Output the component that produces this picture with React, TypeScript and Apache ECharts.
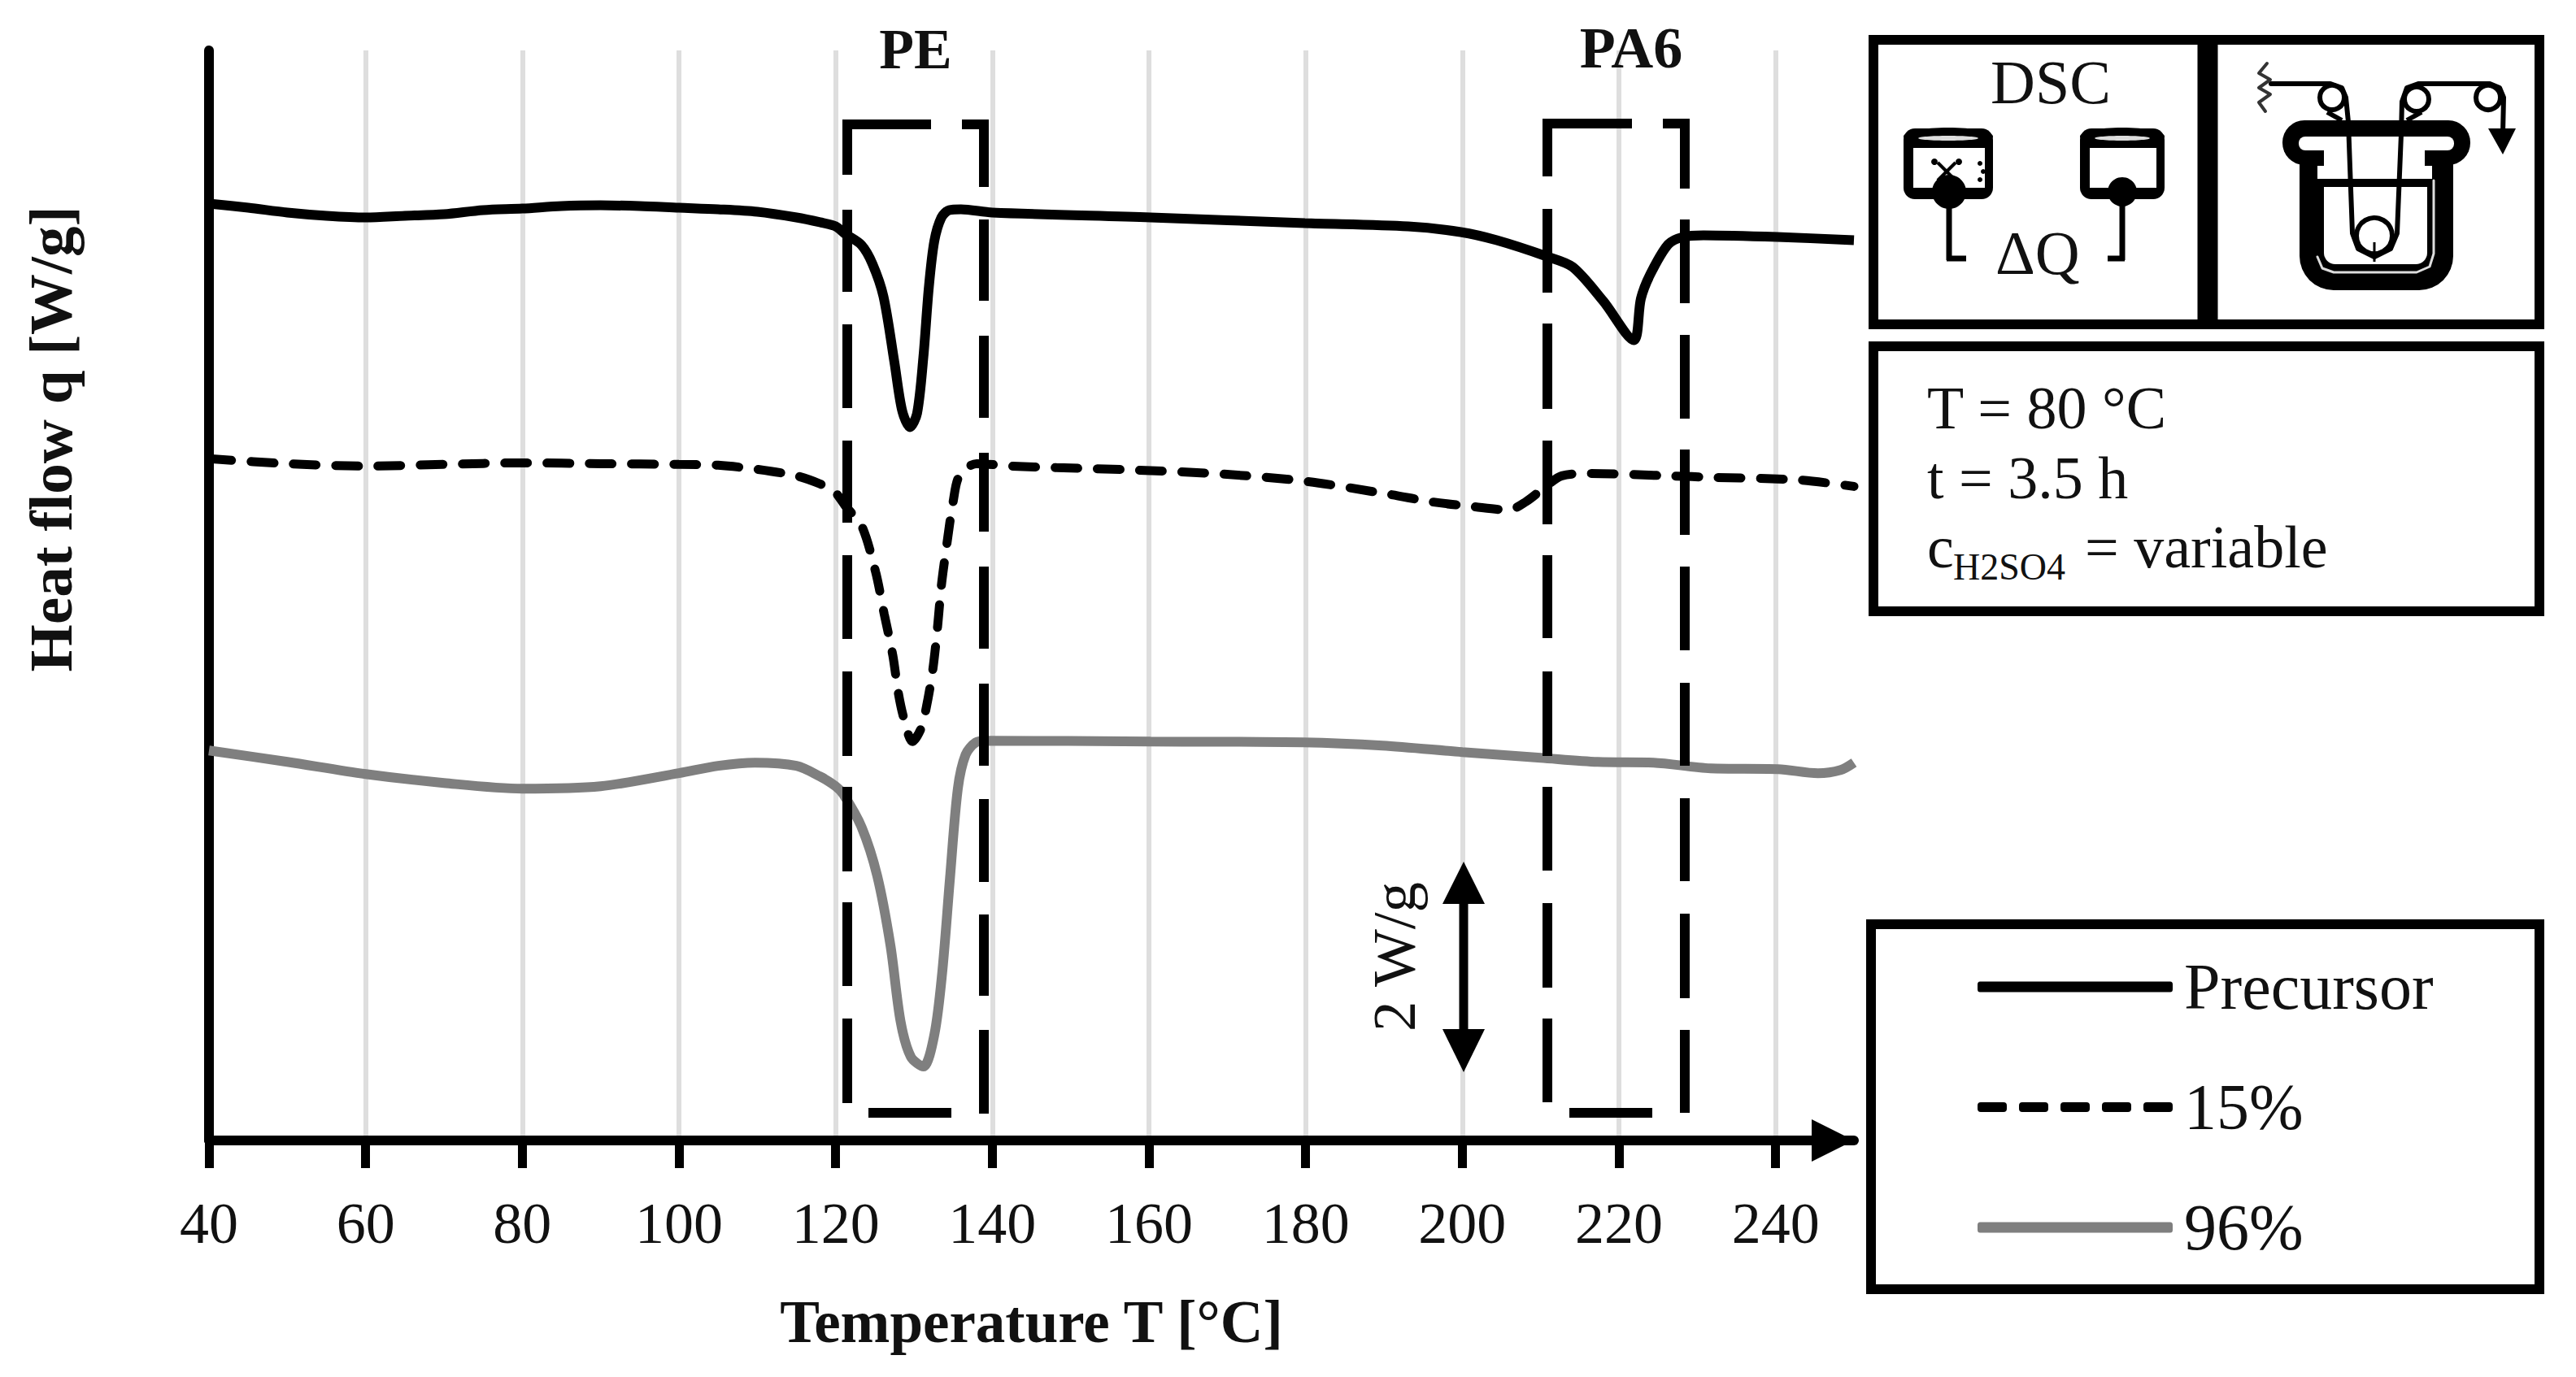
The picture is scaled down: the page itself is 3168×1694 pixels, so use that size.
import React, { useEffect, useRef } from "react";
import * as echarts from "echarts";

const xTicks = [40, 60, 80, 100, 120, 140, 160, 180, 200, 220, 240];

const precursorTemps = [40,45,50,55,60,65,70,75,80,85,90,95,100,105,110,115,118,120,121.2,123.3,124.7,126.1,127.5,128.5,129.5,130.4,131.2,131.9,132.6,133.5,134.5,136,140,160.2,179.9,193.1,199.8,204.4,210.8,214.1,218,221.9,222.8,224,226.3,228.2,230.8,240.2,250];
const precursorFlow = [8.938,8.899,8.853,8.822,8.806,8.822,8.837,8.876,8.891,8.915,8.922,8.915,8.899,8.884,8.860,8.806,8.760,8.721,8.651,8.543,8.364,8.054,7.426,6.961,6.806,6.938,7.473,8.140,8.581,8.806,8.876,8.884,8.853,8.806,8.752,8.721,8.667,8.589,8.434,8.333,8.008,7.636,8.031,8.264,8.550,8.620,8.636,8.620,8.589];

const acid15Temps = [40,50,60,70,80,90,100,105,110,115,118,119.9,121.3,123.3,125.1,126.2,127.3,128,128.7,129.8,130.9,131.6,132.4,133,133.5,134.2,135,135.8,138,142.5,148.2,158.7,169.6,180.2,190.8,196.1,201.4,205.9,208.1,210.8,212.7,216.4,226.3,232.3,242.9,250];
const acid15Flow = [6.504,6.457,6.434,6.450,6.465,6.457,6.450,6.442,6.403,6.341,6.264,6.186,6.047,5.868,5.426,5.023,4.628,4.271,4.030,3.806,3.930,4.140,4.488,4.891,5.295,5.690,6.093,6.341,6.457,6.434,6.419,6.395,6.357,6.287,6.163,6.093,6.047,6.016,6.093,6.248,6.341,6.364,6.341,6.326,6.302,6.240];

const acid96Temps = [40,50,60,70,80,90,100,105,109.7,115,118,120,121,123.3,125.3,127,128.3,129.6,131.2,132.6,133.6,134.6,135.6,136.6,137.9,139.3,160.2,179.7,189.8,200,210,217.3,224.4,231.7,240.3,245.4,248.3,250];
const acid96Flow = [3.721,3.612,3.496,3.411,3.357,3.380,3.504,3.574,3.605,3.574,3.473,3.380,3.302,2.992,2.527,1.860,1.132,0.798,0.705,1.008,1.597,2.504,3.357,3.682,3.798,3.814,3.806,3.798,3.767,3.705,3.651,3.612,3.605,3.550,3.543,3.504,3.535,3.605];

const seriesNames = ["Precursor", "15%", "96%"];
const conditionLines = ["T = 80 °C", "t = 3.5 h"];

const pair = (t: number[], v: number[]) => t.map((x, i) => [x, v[i]]);
const FONT = "Liberation Serif";
const Z = 10;

// Legend keys: a zero-length move at the top and bottom pins the icon's box to the row height.
const keyFrame = "M0 0L0 0M0 80L0 80M240 0L240 0";
const solidKey = "path://" + keyFrame + "M3 33.5H237Q240 33.5 240 37V43Q240 46.5 237 46.5H3Q0 46.5 0 43V37Q0 33.5 3 33.5Z";
const dashKey = "path://" + keyFrame + [0, 51, 102, 153, 204].map((s) =>
  `M${s + 4} 34H${s + 32}Q${s + 36} 34 ${s + 36} 38V42Q${s + 36} 46 ${s + 32} 46H${s + 4}Q${s} 46 ${s} 42V38Q${s} 34 ${s + 4} 34Z`).join("");

const ln = (x1: number, y1: number, x2: number, y2: number, w = 12, c = "#000", cap = "butt") => ({
  type: "line", z: Z, shape: { x1, y1, x2, y2 }, style: { stroke: c, lineWidth: w, lineCap: cap },
});
const box = (x: number, y: number, w: number, h: number, lw = 12) => ({
  type: "rect", z: Z, shape: { x, y, width: w, height: h }, style: { fill: "transparent", stroke: "#000", lineWidth: lw },
});
const fillRect = (x: number, y: number, w: number, h: number, r: any, fill: string) => ({
  type: "rect", z: Z, shape: { x, y, width: w, height: h, r }, style: { fill },
});
const circ = (cx: number, cy: number, r: number, fill: string, stroke?: string, lw = 0) => ({
  type: "circle", z: Z, shape: { cx, cy, r }, style: { fill, stroke, lineWidth: lw },
});
// y is the text's baseline, unless a rotated text asks to be centred on it.
const txt = (x: number, y: number, text: string, size: number, opt: any = {}) => ({
  type: "text", z: Z, x, y: opt.valign ? y : y - 0.87 * size, rotation: opt.rotation || 0,
  style: {
    text, fontFamily: FONT, fontSize: size, fontWeight: opt.bold ? "bold" : "normal", fill: "#111",
    textAlign: opt.align || "left", textVerticalAlign: opt.valign || "top",
  },
});
const poly = (points: number[][], w: number, c = "#000", smooth = 0) => ({
  type: "polyline", z: Z, shape: { points, smooth }, style: { stroke: c, lineWidth: w, fill: "transparent", lineJoin: "round", lineCap: "round" },
});
const tri = (points: number[][]) => ({ type: "polygon", z: Z, shape: { points }, style: { fill: "#000" } });

const vDashes = (x: number, segs: number[][]) => segs.map(([a, b]) => ln(x, a, x, b));

function bracketElements() {
  return [
    ln(1036, 153, 1145, 153), ln(1183, 153, 1216, 153), ln(1068, 1369, 1170, 1369),
    ...vDashes(1042, [[147,215],[258,359],[399,502],[542,643],[683,786],[826,930],[968,1072],[1110,1213],[1253,1357]]),
    ...vDashes(1210, [[147,230],[270,370],[413,514],[557,654],[697,798],[841,942],[983,1085],[1125,1225],[1267,1370]]),
    ln(1897, 152, 2007, 152), ln(2045, 152, 2078, 152), ln(1930, 1369, 2032, 1369),
    ...vDashes(1903, [[146,217],[257,360],[398,503],[542,645],[683,785],[826,930],[968,1071],[1111,1215],[1253,1356]]),
    ...vDashes(2072, [[146,232],[270,373],[412,515],[553,658],[697,800],[840,942],[982,1084],[1124,1228],[1267,1369]]),
  ];
}

function dscIcon() {
  const can = (x: number, w: number, bx: number, by: number, br: number) => [
    fillRect(x, 158, w, 87, 14, "#000"),
    { type: "ellipse", z: Z, shape: { cx: x + w / 2, cy: 168, rx: w / 2, ry: 11 }, style: { fill: "#000" } },
    { type: "ellipse", z: Z, shape: { cx: x + w / 2, cy: 170, rx: w / 2 - 18, ry: 3 }, style: { fill: "#ddd" } },
    fillRect(x + 12, 182, w - 22, 49, 0, "#fff"),
    circ(bx, by, br, "#000"),
    ln(bx, by, bx, 320, 7),
  ];
  return [
    ...can(2341, 110, 2397, 236, 21),
    ln(2383, 200, 2405, 222, 4), ln(2405, 200, 2383, 222, 4),
    circ(2379, 199, 4, "#000"), circ(2409, 199, 4, "#000"),
    circ(2435, 201, 3, "#000"), circ(2439, 211, 3, "#000"), circ(2435, 221, 3, "#000"),
    ln(2394, 318, 2418, 318, 7),
    ...can(2558, 104, 2610, 236, 18),
    ln(2613, 318, 2592, 318, 7),
    txt(2522, 129, "DSC", 76, { align: "center" }),
    txt(2454, 339, "ΔQ", 76),
  ];
}

function beakerIcon() {
  return [
    fillRect(2807, 148, 231, 55, 27, "#000"),
    fillRect(2828, 150, 189, 207, [0, 0, 42, 42], "#000"),
    fillRect(2827, 168, 191, 17, 8, "#fff"),
    fillRect(2858, 168, 124, 52, 0, "#fff"),
    fillRect(2850, 204, 141, 16, 0, "#fff"),
    fillRect(2858, 230, 127, 95, [0, 0, 14, 14], "#fff"),
    poly([[2850, 316], [2856, 330], [2870, 335], [2972, 335], [2988, 328], [2993, 312], [2993, 222]], 3, "#ddd"),
    // threads
    poly([[2793, 103], [2866, 103], [2880, 108], [2885, 120], [2888, 150], [2893, 287], [2900, 306], [2920, 316], [2940, 306], [2948, 287], [2953, 165], [2954, 125], [2960, 108], [2974, 103], [3062, 103], [3074, 108], [3079, 120], [3078, 165]], 6, "#000"),
    circ(2868, 120, 15, "#fff", "#000", 6),
    circ(2972, 122, 15, "#fff", "#000", 6),
    circ(3060, 120, 15, "#fff", "#000", 6),
    circ(2920, 290, 22, "#fff", "#000", 6),
    ln(2920, 298, 2920, 322, 3),
    ln(2862, 138, 2880, 148, 6), ln(2978, 138, 2960, 148, 6),
    tri([[3060, 158], [3094, 158], [3078, 190]]),
    // wall mount
    poly([[2788, 78], [2778, 90], [2792, 98], [2778, 108], [2792, 116], [2778, 126], [2786, 137]], 4, "#333"),
  ];
}

function buildGraphic() {
  return [
    ...bracketElements(),
    txt(1126, 86, "PE", 70, { bold: true, align: "center" }),
    txt(2006, 86, "PA6", 72, { bold: true, align: "center" }),
    txt(62, 540, "Heat flow q [W/g]", 75, { bold: true, align: "center", valign: "middle", rotation: Math.PI / 2 }),
    // 2 W/g scale
    ln(1800, 1105, 1800, 1272, 11),
    tri([[1800, 1060], [1826, 1112], [1774, 1112]]),
    tri([[1800, 1319], [1826, 1266], [1774, 1266]]),
    txt(1714, 1177, "2 W/g", 75, { align: "center", valign: "middle", rotation: Math.PI / 2 }),
    // panels
    box(2304, 49, 819, 350),
    ln(2715, 43, 2715, 405, 25),
    ...dscIcon(),
    ...beakerIcon(),
    box(2304, 426, 819, 326),
    txt(2370, 529, conditionLines[0], 74),
    txt(2370, 615, conditionLines[1], 74),
    txt(2370, 700, "c", 74),
    txt(2402, 715, "H2SO4", 46),
    txt(2564, 700, "= variable", 74),
    box(2301, 1137, 822, 449),
  ];
}

export default function App() {
  const ref = useRef<HTMLDivElement>(null);
  useEffect(() => {
    const chart = echarts.init(ref.current!, undefined, { renderer: "svg" });
    const common = { type: "line", showSymbol: false, symbol: "none", smooth: 0.3, z: 3 };
    chart.setOption({
      animation: false,
      backgroundColor: "#fff",
      grid: { left: 257, top: 62, width: 2023, height: 1341, containLabel: false },
      legend: {
        orient: "vertical", left: 2432, top: 1174, itemWidth: 240, itemHeight: 80, itemGap: 68,
        selectedMode: false, padding: 0,
        data: [
          { name: seriesNames[0], icon: solidKey },
          { name: seriesNames[1], icon: dashKey },
          { name: seriesNames[2], icon: solidKey },
        ],
        textStyle: { fontFamily: FONT, fontSize: 80, color: "#111", padding: [0, 0, 0, 9] },
      },
      xAxis: {
        type: "value", min: 40, max: 250, interval: 20,
        name: "Temperature T [°C]", nameLocation: "middle", nameGap: 187,
        nameTextStyle: { fontFamily: FONT, fontSize: 73, fontWeight: "bold", color: "#111" },
        axisLine: { show: true, onZero: false, symbol: ["none", "triangle"], symbolSize: [52, 52], symbolOffset: [0, -26], lineStyle: { color: "#000", width: 12 } },
        axisTick: { show: true, customValues: xTicks, length: 34, lineStyle: { color: "#000", width: 11 } },
        axisLabel: { customValues: xTicks, margin: 66, fontFamily: FONT, fontSize: 72, color: "#111" },
        splitLine: { show: true, customValues: xTicks, lineStyle: { color: "#dedede", width: 6 } },
      },
      yAxis: {
        type: "value", min: 0, max: 10.4,
        axisLine: { show: true, onZero: false, lineStyle: { color: "#000", width: 12 } },
        axisTick: { show: false }, axisLabel: { show: false }, splitLine: { show: false },
      },
      series: [
        { ...common, name: seriesNames[0], data: pair(precursorTemps, precursorFlow), lineStyle: { color: "#000", width: 12 }, itemStyle: { color: "#000" } },
        { ...common, name: seriesNames[1], data: pair(acid15Temps, acid15Flow), lineStyle: { color: "#000", width: 11, type: [28, 24], cap: "round" }, itemStyle: { color: "#000" } },
        { ...common, name: seriesNames[2], data: pair(acid96Temps, acid96Flow), lineStyle: { color: "#7f7f7f", width: 12 }, itemStyle: { color: "#7f7f7f" } },
      ],
      graphic: { elements: buildGraphic() },
    });
    return () => chart.dispose();
  }, []);
  return <div ref={ref} style={{ position: "fixed", left: 0, top: 0, width: 3168, height: 1694 }} />;
}
